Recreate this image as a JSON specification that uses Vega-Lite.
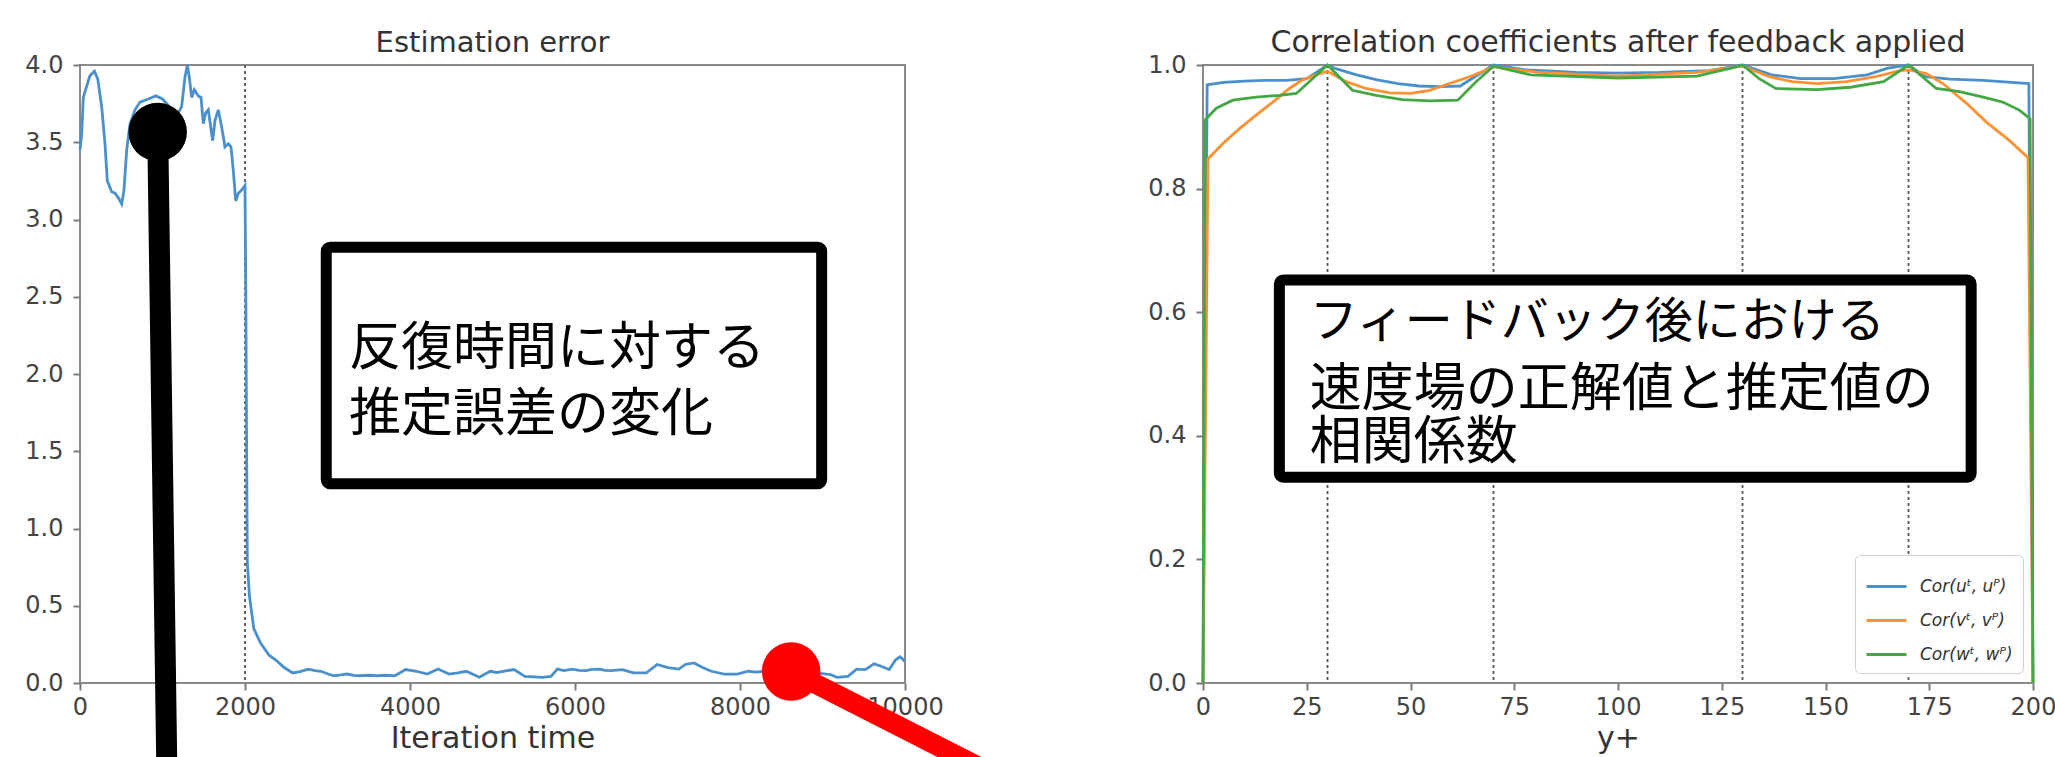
{
  "$schema": "https://vega.github.io/schema/vega-lite/v6.json",
  "padding": {"left": 23, "top": 27, "right": 0, "bottom": 0},
  "background": "white",
  "spacing": 298,
  "bounds": "flush",
  "resolve": {"scale": {"color": "independent"}, "legend": {"color": "independent"}},
  "config": {
    "font": "DejaVu Sans",
    "view": {"stroke": "#8a8a8a", "strokeWidth": 2},
    "axis": {
      "grid": false, "domain": false, "tickColor": "#7a7a7a", "tickSize": 7, "tickWidth": 2,
      "labelFontSize": 24, "labelColor": "#444", "labelFont": "DejaVu Sans",
      "labelFlush": false, "labelOverlap": false, "labelBound": false,
      "titleFontSize": 30, "titleFontWeight": "normal", "titleColor": "#333", "titleFont": "DejaVu Sans"
    },
    "axisX": {"labelPadding": 5, "titlePadding": 4},
    "axisY": {"labelPadding": 10},
    "title": {"fontWeight": "normal", "color": "#333", "font": "DejaVu Sans", "offset": -5},
    "legend": {
      "orient": "bottom-right", "offset": 10, "padding": 10, "strokeColor": "#d0d0d0", "fillColor": "white",
      "cornerRadius": 5, "labelFontSize": 17, "labelFontStyle": "italic", "labelColor": "#333",
      "symbolType": "stroke", "symbolStrokeWidth": 2.8, "symbolSize": 1600, "rowPadding": 4, "labelOffset": 12
    }
  },
  "datasets": {
    "err": [
      {"t": 0, "e": 3.45}, {"t": 20, "e": 3.55}, {"t": 40, "e": 3.79}, {"t": 90, "e": 3.88}, {"t": 120, "e": 3.93},
      {"t": 175, "e": 3.96}, {"t": 215, "e": 3.91}, {"t": 263, "e": 3.73}, {"t": 303, "e": 3.49}, {"t": 331, "e": 3.25},
      {"t": 384, "e": 3.18}, {"t": 424, "e": 3.17}, {"t": 465, "e": 3.14}, {"t": 505, "e": 3.1}, {"t": 533, "e": 3.19},
      {"t": 566, "e": 3.45}, {"t": 606, "e": 3.62}, {"t": 667, "e": 3.71}, {"t": 727, "e": 3.76}, {"t": 828, "e": 3.78},
      {"t": 920, "e": 3.8}, {"t": 1000, "e": 3.78}, {"t": 1100, "e": 3.72}, {"t": 1180, "e": 3.68}, {"t": 1232, "e": 3.73},
      {"t": 1272, "e": 3.92}, {"t": 1301, "e": 4.0}, {"t": 1325, "e": 3.92}, {"t": 1354, "e": 3.79}, {"t": 1386, "e": 3.84},
      {"t": 1434, "e": 3.8}, {"t": 1467, "e": 3.79}, {"t": 1495, "e": 3.62}, {"t": 1523, "e": 3.69}, {"t": 1555, "e": 3.71},
      {"t": 1584, "e": 3.6}, {"t": 1608, "e": 3.51}, {"t": 1636, "e": 3.64}, {"t": 1676, "e": 3.71}, {"t": 1717, "e": 3.6},
      {"t": 1757, "e": 3.47}, {"t": 1798, "e": 3.49}, {"t": 1830, "e": 3.47}, {"t": 1858, "e": 3.32}, {"t": 1887, "e": 3.12},
      {"t": 1919, "e": 3.17}, {"t": 1960, "e": 3.19}, {"t": 2000, "e": 3.22}, {"t": 2010, "e": 2.5}, {"t": 2020, "e": 1.5},
      {"t": 2028, "e": 0.78}, {"t": 2054, "e": 0.56}, {"t": 2108, "e": 0.35}, {"t": 2187, "e": 0.26}, {"t": 2292, "e": 0.18},
      {"t": 2370, "e": 0.15}, {"t": 2475, "e": 0.1}, {"t": 2580, "e": 0.065}, {"t": 2680, "e": 0.075}, {"t": 2764, "e": 0.09},
      {"t": 2850, "e": 0.08}, {"t": 2921, "e": 0.076}, {"t": 3000, "e": 0.06}, {"t": 3079, "e": 0.047}, {"t": 3160, "e": 0.052},
      {"t": 3236, "e": 0.058}, {"t": 3320, "e": 0.05}, {"t": 3394, "e": 0.047}, {"t": 3500, "e": 0.05}, {"t": 3605, "e": 0.047},
      {"t": 3700, "e": 0.05}, {"t": 3816, "e": 0.047}, {"t": 3890, "e": 0.07}, {"t": 3947, "e": 0.087}, {"t": 4079, "e": 0.076},
      {"t": 4210, "e": 0.058}, {"t": 4340, "e": 0.09}, {"t": 4473, "e": 0.058}, {"t": 4580, "e": 0.066}, {"t": 4682, "e": 0.076},
      {"t": 4841, "e": 0.037}, {"t": 4972, "e": 0.076}, {"t": 5050, "e": 0.068}, {"t": 5130, "e": 0.076}, {"t": 5261, "e": 0.087},
      {"t": 5393, "e": 0.043}, {"t": 5500, "e": 0.04}, {"t": 5603, "e": 0.037}, {"t": 5708, "e": 0.043}, {"t": 5787, "e": 0.09},
      {"t": 5866, "e": 0.08}, {"t": 5971, "e": 0.09}, {"t": 6050, "e": 0.082}, {"t": 6128, "e": 0.08}, {"t": 6210, "e": 0.088},
      {"t": 6286, "e": 0.09}, {"t": 6370, "e": 0.082}, {"t": 6444, "e": 0.08}, {"t": 6576, "e": 0.087}, {"t": 6707, "e": 0.065},
      {"t": 6865, "e": 0.065}, {"t": 6996, "e": 0.12}, {"t": 7127, "e": 0.1}, {"t": 7258, "e": 0.09}, {"t": 7337, "e": 0.12},
      {"t": 7442, "e": 0.13}, {"t": 7547, "e": 0.1}, {"t": 7652, "e": 0.076}, {"t": 7810, "e": 0.058}, {"t": 7968, "e": 0.058},
      {"t": 8099, "e": 0.076}, {"t": 8204, "e": 0.07}, {"t": 8283, "e": 0.076}, {"t": 8500, "e": 0.06}, {"t": 8800, "e": 0.07},
      {"t": 9000, "e": 0.06}, {"t": 9098, "e": 0.054}, {"t": 9176, "e": 0.037}, {"t": 9309, "e": 0.043}, {"t": 9414, "e": 0.09},
      {"t": 9518, "e": 0.087}, {"t": 9624, "e": 0.124}, {"t": 9703, "e": 0.11}, {"t": 9808, "e": 0.087}, {"t": 9887, "e": 0.15},
      {"t": 9940, "e": 0.17}, {"t": 10000, "e": 0.14}
    ],
    "cor": [
      {"y": 0, "r": 0.0, "s": "Cor(uᵗ, uᴾ)"}, {"y": 1, "r": 0.968, "s": "Cor(uᵗ, uᴾ)"}, {"y": 5, "r": 0.972, "s": "Cor(uᵗ, uᴾ)"},
      {"y": 10, "r": 0.974, "s": "Cor(uᵗ, uᴾ)"}, {"y": 15, "r": 0.975, "s": "Cor(uᵗ, uᴾ)"}, {"y": 20, "r": 0.975, "s": "Cor(uᵗ, uᴾ)"},
      {"y": 25, "r": 0.978, "s": "Cor(uᵗ, uᴾ)"}, {"y": 30, "r": 1.0, "s": "Cor(uᵗ, uᴾ)"}, {"y": 32, "r": 0.994, "s": "Cor(uᵗ, uᴾ)"},
      {"y": 37, "r": 0.984, "s": "Cor(uᵗ, uᴾ)"}, {"y": 42, "r": 0.976, "s": "Cor(uᵗ, uᴾ)"}, {"y": 47, "r": 0.97, "s": "Cor(uᵗ, uᴾ)"},
      {"y": 52, "r": 0.966, "s": "Cor(uᵗ, uᴾ)"}, {"y": 57, "r": 0.965, "s": "Cor(uᵗ, uᴾ)"}, {"y": 62, "r": 0.966, "s": "Cor(uᵗ, uᴾ)"},
      {"y": 65, "r": 0.979, "s": "Cor(uᵗ, uᴾ)"}, {"y": 70, "r": 1.0, "s": "Cor(uᵗ, uᴾ)"}, {"y": 78, "r": 0.992, "s": "Cor(uᵗ, uᴾ)"},
      {"y": 90, "r": 0.988, "s": "Cor(uᵗ, uᴾ)"}, {"y": 100, "r": 0.987, "s": "Cor(uᵗ, uᴾ)"}, {"y": 110, "r": 0.988, "s": "Cor(uᵗ, uᴾ)"},
      {"y": 122, "r": 0.991, "s": "Cor(uᵗ, uᴾ)"}, {"y": 130, "r": 1.0, "s": "Cor(uᵗ, uᴾ)"}, {"y": 137, "r": 0.984, "s": "Cor(uᵗ, uᴾ)"},
      {"y": 144, "r": 0.978, "s": "Cor(uᵗ, uᴾ)"}, {"y": 152, "r": 0.978, "s": "Cor(uᵗ, uᴾ)"}, {"y": 160, "r": 0.984, "s": "Cor(uᵗ, uᴾ)"},
      {"y": 165, "r": 0.995, "s": "Cor(uᵗ, uᴾ)"}, {"y": 170, "r": 1.0, "s": "Cor(uᵗ, uᴾ)"}, {"y": 174, "r": 0.981, "s": "Cor(uᵗ, uᴾ)"},
      {"y": 180, "r": 0.977, "s": "Cor(uᵗ, uᴾ)"}, {"y": 188, "r": 0.975, "s": "Cor(uᵗ, uᴾ)"}, {"y": 199, "r": 0.97, "s": "Cor(uᵗ, uᴾ)"},
      {"y": 200, "r": 0.0, "s": "Cor(uᵗ, uᴾ)"},
      {"y": 0, "r": 0.0, "s": "Cor(vᵗ, vᴾ)"}, {"y": 1.2, "r": 0.848, "s": "Cor(vᵗ, vᴾ)"}, {"y": 4.8, "r": 0.873, "s": "Cor(vᵗ, vᴾ)"},
      {"y": 8.8, "r": 0.897, "s": "Cor(vᵗ, vᴾ)"}, {"y": 12.8, "r": 0.919, "s": "Cor(vᵗ, vᴾ)"}, {"y": 16.8, "r": 0.94, "s": "Cor(vᵗ, vᴾ)"},
      {"y": 20.8, "r": 0.962, "s": "Cor(vᵗ, vᴾ)"}, {"y": 24, "r": 0.976, "s": "Cor(vᵗ, vᴾ)"}, {"y": 27.3, "r": 0.984, "s": "Cor(vᵗ, vᴾ)"},
      {"y": 30, "r": 0.99, "s": "Cor(vᵗ, vᴾ)"}, {"y": 34.5, "r": 0.973, "s": "Cor(vᵗ, vᴾ)"}, {"y": 39.3, "r": 0.962, "s": "Cor(vᵗ, vᴾ)"},
      {"y": 45, "r": 0.955, "s": "Cor(vᵗ, vᴾ)"}, {"y": 50, "r": 0.954, "s": "Cor(vᵗ, vᴾ)"}, {"y": 54.6, "r": 0.959, "s": "Cor(vᵗ, vᴾ)"},
      {"y": 59.4, "r": 0.97, "s": "Cor(vᵗ, vᴾ)"}, {"y": 64.2, "r": 0.981, "s": "Cor(vᵗ, vᴾ)"}, {"y": 69, "r": 0.994, "s": "Cor(vᵗ, vᴾ)"},
      {"y": 70, "r": 0.997, "s": "Cor(vᵗ, vᴾ)"}, {"y": 81, "r": 0.988, "s": "Cor(vᵗ, vᴾ)"}, {"y": 100, "r": 0.982, "s": "Cor(vᵗ, vᴾ)"},
      {"y": 119, "r": 0.988, "s": "Cor(vᵗ, vᴾ)"}, {"y": 130, "r": 0.998, "s": "Cor(vᵗ, vᴾ)"}, {"y": 136.5, "r": 0.981, "s": "Cor(vᵗ, vᴾ)"},
      {"y": 142, "r": 0.973, "s": "Cor(vᵗ, vᴾ)"}, {"y": 148, "r": 0.97, "s": "Cor(vᵗ, vᴾ)"}, {"y": 155, "r": 0.973, "s": "Cor(vᵗ, vᴾ)"},
      {"y": 162, "r": 0.981, "s": "Cor(vᵗ, vᴾ)"}, {"y": 168, "r": 0.991, "s": "Cor(vᵗ, vᴾ)"}, {"y": 170, "r": 0.992, "s": "Cor(vᵗ, vᴾ)"},
      {"y": 174.3, "r": 0.986, "s": "Cor(vᵗ, vᴾ)"}, {"y": 178.3, "r": 0.97, "s": "Cor(vᵗ, vᴾ)"}, {"y": 184, "r": 0.938, "s": "Cor(vᵗ, vᴾ)"},
      {"y": 188.7, "r": 0.908, "s": "Cor(vᵗ, vᴾ)"}, {"y": 194.3, "r": 0.878, "s": "Cor(vᵗ, vᴾ)"}, {"y": 198.8, "r": 0.85, "s": "Cor(vᵗ, vᴾ)"},
      {"y": 200, "r": 0.0, "s": "Cor(vᵗ, vᴾ)"},
      {"y": 0, "r": 0.0, "s": "Cor(wᵗ, wᴾ)"}, {"y": 0.5, "r": 0.911, "s": "Cor(wᵗ, wᴾ)"}, {"y": 3.2, "r": 0.93, "s": "Cor(wᵗ, wᴾ)"},
      {"y": 7.2, "r": 0.943, "s": "Cor(wᵗ, wᴾ)"}, {"y": 12.8, "r": 0.948, "s": "Cor(wᵗ, wᴾ)"}, {"y": 18.4, "r": 0.951, "s": "Cor(wᵗ, wᴾ)"},
      {"y": 22.5, "r": 0.954, "s": "Cor(wᵗ, wᴾ)"}, {"y": 30, "r": 1.0, "s": "Cor(wᵗ, wᴾ)"}, {"y": 36, "r": 0.959, "s": "Cor(wᵗ, wᴾ)"},
      {"y": 41.7, "r": 0.951, "s": "Cor(wᵗ, wᴾ)"}, {"y": 48, "r": 0.944, "s": "Cor(wᵗ, wᴾ)"}, {"y": 54.6, "r": 0.942, "s": "Cor(wᵗ, wᴾ)"},
      {"y": 61.4, "r": 0.943, "s": "Cor(wᵗ, wᴾ)"}, {"y": 65.8, "r": 0.973, "s": "Cor(wᵗ, wᴾ)"}, {"y": 70, "r": 0.998, "s": "Cor(wᵗ, wᴾ)"},
      {"y": 79, "r": 0.984, "s": "Cor(wᵗ, wᴾ)"}, {"y": 100, "r": 0.979, "s": "Cor(wᵗ, wᴾ)"}, {"y": 119, "r": 0.982, "s": "Cor(wᵗ, wᴾ)"},
      {"y": 128, "r": 0.996, "s": "Cor(wᵗ, wᴾ)"}, {"y": 130, "r": 1.0, "s": "Cor(wᵗ, wᴾ)"}, {"y": 134, "r": 0.978, "s": "Cor(wᵗ, wᴾ)"},
      {"y": 138, "r": 0.962, "s": "Cor(wᵗ, wᴾ)"}, {"y": 148, "r": 0.96, "s": "Cor(wᵗ, wᴾ)"}, {"y": 156, "r": 0.964, "s": "Cor(wᵗ, wᴾ)"},
      {"y": 164, "r": 0.973, "s": "Cor(wᵗ, wᴾ)"}, {"y": 170, "r": 1.0, "s": "Cor(wᵗ, wᴾ)"}, {"y": 176.7, "r": 0.962, "s": "Cor(wᵗ, wᴾ)"},
      {"y": 182.3, "r": 0.957, "s": "Cor(wᵗ, wᴾ)"}, {"y": 188, "r": 0.948, "s": "Cor(wᵗ, wᴾ)"}, {"y": 192.7, "r": 0.94, "s": "Cor(wᵗ, wᴾ)"},
      {"y": 196.7, "r": 0.927, "s": "Cor(wᵗ, wᴾ)"}, {"y": 199.3, "r": 0.913, "s": "Cor(wᵗ, wᴾ)"}, {"y": 200, "r": 0.0, "s": "Cor(wᵗ, wᴾ)"}
    ],
    "vlines": [{"y": 30}, {"y": 70}, {"y": 130}, {"y": 170}],
    "one": [{}]
  },
  "hconcat": [
    {
      "width": 825, "height": 618,
      "title": {"text": "Estimation error", "fontSize": 29},
      "layer": [
        {
          "data": {"name": "one"},
          "mark": {"type": "rule", "color": "#555", "strokeDash": [3, 3], "strokeWidth": 1.8},
          "encoding": {"x": {"datum": 2000, "type": "quantitative", "scale": {"domain": [0, 10000], "nice": false}}}
        },
        {
          "data": {"name": "err"},
          "mark": {"type": "line", "color": "#4a90cc", "strokeWidth": 2.8},
          "encoding": {
            "x": {"field": "t", "type": "quantitative", "scale": {"domain": [0, 10000], "nice": false},
                  "axis": {"values": [0, 2000, 4000, 6000, 8000, 10000], "format": "d"}, "title": "Iteration time"},
            "y": {"field": "e", "type": "quantitative", "scale": {"domain": [0, 4], "nice": false},
                  "axis": {"values": [0, 0.5, 1, 1.5, 2, 2.5, 3, 3.5, 4], "format": ".1f"}, "title": null}
          }
        },
        {
          "data": {"name": "one"},
          "mark": {"type": "rect", "fill": "white", "stroke": "black", "strokeWidth": 11, "cornerRadius": 4},
          "encoding": {
            "x": {"datum": 2985, "type": "quantitative"}, "x2": {"datum": 8990},
            "y": {"datum": 2.82, "type": "quantitative"}, "y2": {"datum": 1.29}
          }
        },
        {
          "data": {"name": "one"},
          "mark": {"type": "text", "text": ["反復時間に対する", "推定誤差の変化"], "font": "Noto Sans CJK JP",
                   "fontSize": 52, "lineHeight": 66, "align": "left", "baseline": "middle", "color": "black"},
          "encoding": {"x": {"datum": 3261, "type": "quantitative"}, "y": {"datum": 2.16, "type": "quantitative"}}
        },
        {
          "data": {"name": "one"},
          "mark": {"type": "rule", "color": "black", "strokeWidth": 21, "clip": false},
          "encoding": {
            "x": {"datum": 942, "type": "quantitative"}, "x2": {"datum": 1055},
            "y": {"datum": 3.566, "type": "quantitative"}, "y2": {"datum": -0.65}
          }
        },
        {
          "data": {"name": "one"},
          "mark": {"type": "point", "filled": true, "color": "black", "opacity": 1, "size": 3421, "clip": false},
          "encoding": {"x": {"datum": 942, "type": "quantitative"}, "y": {"datum": 3.566, "type": "quantitative"}}
        },
        {
          "data": {"name": "one"},
          "mark": {"type": "rule", "color": "#ff0000", "strokeWidth": 20, "clip": false},
          "encoding": {
            "x": {"datum": 8620, "type": "quantitative"}, "x2": {"datum": 11180},
            "y": {"datum": 0.075, "type": "quantitative"}, "y2": {"datum": -0.62}
          }
        },
        {
          "data": {"name": "one"},
          "mark": {"type": "point", "filled": true, "color": "#ff0000", "opacity": 1, "size": 3421, "clip": false},
          "encoding": {"x": {"datum": 8620, "type": "quantitative"}, "y": {"datum": 0.075, "type": "quantitative"}}
        }
      ]
    },
    {
      "width": 830, "height": 618,
      "title": {"text": "Correlation coefficients after feedback applied", "fontSize": 30},
      "layer": [
        {
          "data": {"name": "vlines"},
          "mark": {"type": "rule", "color": "#555", "strokeDash": [3, 3], "strokeWidth": 1.8},
          "encoding": {"x": {"field": "y", "type": "quantitative", "scale": {"domain": [0, 200], "nice": false}}}
        },
        {
          "data": {"name": "cor"},
          "mark": {"type": "line", "strokeWidth": 2.8},
          "encoding": {
            "x": {"field": "y", "type": "quantitative", "scale": {"domain": [0, 200], "nice": false},
                  "axis": {"values": [0, 25, 50, 75, 100, 125, 150, 175, 200]}, "title": "y+"},
            "y": {"field": "r", "type": "quantitative", "scale": {"domain": [0, 1], "nice": false},
                  "axis": {"values": [0, 0.2, 0.4, 0.6, 0.8, 1.0], "format": ".1f"}, "title": null},
            "color": {"field": "s", "type": "nominal",
                      "scale": {"domain": ["Cor(uᵗ, uᴾ)", "Cor(vᵗ, vᴾ)", "Cor(wᵗ, wᴾ)"], "range": ["#4a90cc", "#ff9133", "#43a843"]},
                      "legend": {"title": null, "orient": "bottom-right"}},
            "order": {"field": "y", "type": "quantitative"}
          }
        },
        {
          "data": {"name": "one"},
          "mark": {"type": "rect", "fill": "white", "stroke": "black", "strokeWidth": 11, "cornerRadius": 4},
          "encoding": {
            "x": {"datum": 18.4, "type": "quantitative"}, "x2": {"datum": 185.1},
            "y": {"datum": 0.652, "type": "quantitative"}, "y2": {"datum": 0.333}
          }
        },
        {
          "data": {"name": "one"},
          "mark": {"type": "text", "text": "フィードバック後における", "font": "Noto Sans CJK JP", "fontSize": 48, "align": "left", "baseline": "middle", "color": "black"},
          "encoding": {"x": {"datum": 25.7, "type": "quantitative"}, "y": {"datum": 0.583, "type": "quantitative"}}
        },
        {
          "data": {"name": "one"},
          "mark": {"type": "text", "text": "速度場の正解値と推定値の", "font": "Noto Sans CJK JP", "fontSize": 52, "align": "left", "baseline": "middle", "color": "black"},
          "encoding": {"x": {"datum": 25.7, "type": "quantitative"}, "y": {"datum": 0.474, "type": "quantitative"}}
        },
        {
          "data": {"name": "one"},
          "mark": {"type": "text", "text": "相関係数", "font": "Noto Sans CJK JP", "fontSize": 52, "align": "left", "baseline": "middle", "color": "black"},
          "encoding": {"x": {"datum": 25.7, "type": "quantitative"}, "y": {"datum": 0.389, "type": "quantitative"}}
        }
      ]
    }
  ]
}
